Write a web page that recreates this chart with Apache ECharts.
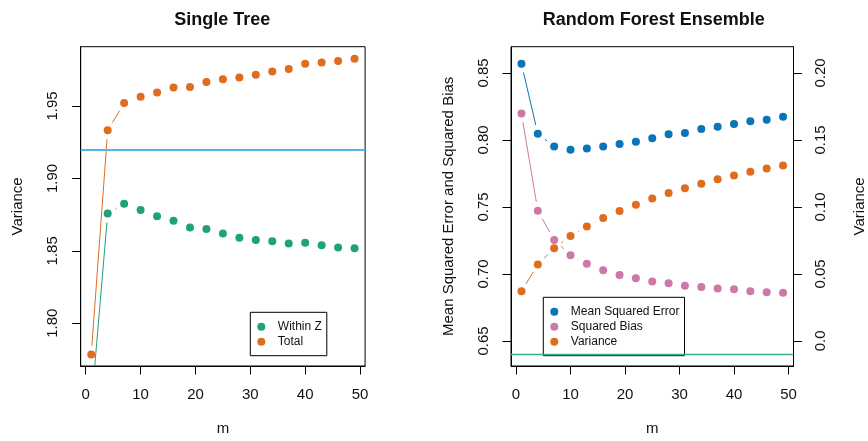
<!DOCTYPE html>
<html><head><meta charset="utf-8">
<script src="https://cdn.jsdelivr.net/npm/echarts@6/dist/echarts.min.js"></script>
<style>html,body{margin:0;padding:0;background:#fff}#c{width:868px;height:441px}</style>
</head><body><div id="c"></div>
<script>
// ---- data ----
const mValues = [1, 4, 7, 10, 13, 16, 19, 22, 25, 28, 31, 34, 37, 40, 43, 46, 49];
const treeWithinZ = [1.742, 1.8757, 1.8825, 1.8782, 1.8739, 1.8707, 1.8661, 1.865, 1.862, 1.8591, 1.8575, 1.8566, 1.855, 1.8555, 1.8538, 1.8523, 1.8518];
const treeTotal = [1.7784, 1.9332, 1.952, 1.9564, 1.9593, 1.9628, 1.963, 1.9666, 1.9684, 1.9696, 1.9716, 1.9737, 1.9755, 1.9791, 1.98, 1.981, 1.9825];
const treeRefLine = 1.9178;
const rfMSE = [0.8569, 0.8047, 0.7951, 0.7927, 0.7937, 0.7951, 0.7969, 0.7986, 0.8013, 0.8043, 0.8052, 0.8082, 0.8099, 0.8119, 0.8139, 0.8151, 0.8173];
const rfBias = [0.8198, 0.7472, 0.7254, 0.714, 0.7077, 0.7027, 0.6993, 0.6968, 0.6944, 0.6931, 0.6911, 0.6902, 0.6892, 0.6885, 0.687, 0.6863, 0.686];
const rfVariance = [0.037, 0.0571, 0.0692, 0.0783, 0.0854, 0.0918, 0.097, 0.1016, 0.1063, 0.1105, 0.1139, 0.1174, 0.1206, 0.1235, 0.1263, 0.1287, 0.1309];
const rfRefLine = 0.64;
const xTicks = [0, 10, 20, 30, 40, 50];
const treeYTicks = [1.80, 1.85, 1.90, 1.95];
const rfYTicks = [0.65, 0.70, 0.75, 0.80, 0.85];
const rfVarTicks = [0, 0.05, 0.10, 0.15, 0.20];
const legendTree = ['Within Z', 'Total'];
const legendRF = ['Mean Squared Error', 'Squared Bias', 'Variance'];

// ---- styling ----
const FONT = 'Liberation Sans, Arial, Helvetica, sans-serif';
const C = { green: '#1FA27A', orange: '#E06C1F', blue: '#0A74B8', pink: '#CC79A7', sky: '#56B4E9', lineGreen: '#35B486' };
const X_MIN = -0.92, X_MAX = 50.92;
const TREE_Y = [1.7705, 1.9909];
const RF_Y = [0.6313, 0.8696];
const VAR_OFFSET = 0.65;

const zip = (xs, ys) => xs.map((x, i) => [x, ys[i]]);
const segs = (xs, ys) => xs.slice(0, -1).map((x, i) => [x, ys[i], xs[i + 1], ys[i + 1]]);
function gapRender(color) {
  return function (params, api) {
    const p1 = api.coord([api.value(0), api.value(1)]);
    const p2 = api.coord([api.value(2), api.value(3)]);
    const dx = p2[0] - p1[0], dy = p2[1] - p1[1];
    const L = Math.hypot(dx, dy), g = 9;
    if (L <= 2 * g) return { type: 'group', children: [] };
    const ux = dx / L, uy = dy / L;
    return { type: 'line', shape: { x1: p1[0] + ux * g, y1: p1[1] + uy * g, x2: p2[0] - ux * g, y2: p2[1] - uy * g },
      style: { stroke: color, lineWidth: 1 } };
  };
}
function lineSeries(xi, yi, xs, ys, color) {
  return { type: 'custom', xAxisIndex: xi, yAxisIndex: yi, clip: true, silent: true,
    encode: { x: [0, 2], y: [1, 3] }, data: segs(xs, ys), renderItem: gapRender(color), z: 2 };
}
function pointSeries(name, xi, yi, xs, ys, color) {
  return { type: 'scatter', name, xAxisIndex: xi, yAxisIndex: yi, clip: true, silent: true,
    symbol: 'circle', symbolSize: 8, itemStyle: { color, opacity: 1 }, data: zip(xs, ys), z: 3 };
}
const txt = { color: '#111', fontFamily: FONT, fontSize: 15 };
function xAxis(gi) {
  return { type: 'value', gridIndex: gi, min: X_MIN, max: X_MAX,
    axisLine: { show: true, onZero: false, lineStyle: { color: '#000', width: 1 } },
    axisTick: { show: true, customValues: xTicks, length: 8.5, lineStyle: { color: '#000', width: 1 } },
    axisLabel: { customValues: xTicks, margin: 21.5, ...txt },
    splitLine: { show: false },
    name: 'm', nameLocation: 'middle', nameGap: 55, nameTextStyle: { ...txt } };
}
function yAxis(gi, range, ticks, fmt, pos, name, nameGap) {
  return { type: 'value', gridIndex: gi, min: range[0], max: range[1], position: pos,
    axisLine: { show: true, onZero: false, lineStyle: { color: '#000', width: 1 } },
    axisTick: { show: true, customValues: ticks, length: 8.5, lineStyle: { color: '#000', width: 1 } },
    axisLabel: { customValues: ticks, rotate: 90, margin: 20, formatter: fmt, ...txt },
    splitLine: { show: false },
    name, nameLocation: 'middle', nameGap, nameRotate: 90, nameTextStyle: { ...txt } };
}
function legend(names, left, top) {
  return { data: names, orient: 'vertical', left, top, padding: [8.4, 5, 8, 7], itemGap: 3,
    itemWidth: 23, itemHeight: 8, icon: 'circle', selectedMode: false,
    borderColor: '#000', borderWidth: 1, borderRadius: 0, backgroundColor: '#fff',
    textStyle: { color: '#111', fontFamily: FONT, fontSize: 12 } };
}

const tree = pointSeries('Total', 0, 0, mValues, treeTotal, C.orange);
tree.markLine = { symbol: 'none', silent: true, label: { show: false }, animation: false,
  lineStyle: { color: C.sky, width: 2, type: 'solid' }, data: [{ yAxis: treeRefLine }] };
const mse = pointSeries('Mean Squared Error', 1, 1, mValues, rfMSE, C.blue);
mse.markLine = { symbol: 'none', silent: true, label: { show: false }, animation: false,
  lineStyle: { color: C.lineGreen, width: 1.3, type: 'solid' }, data: [{ yAxis: rfRefLine }] };

const chart = echarts.init(document.getElementById('c'), null, { renderer: 'canvas' });
chart.setOption({
  animation: false,
  backgroundColor: '#fff',
  textStyle: { fontFamily: FONT },
  graphic: [
    { type: 'text', x: 222.2, y: 20.5, style: { text: 'Single Tree', font: 'bold 18px ' + FONT, fill: '#111', align: 'center', verticalAlign: 'middle' } },
    { type: 'text', x: 653.7, y: 20.5, style: { text: 'Random Forest Ensemble', font: 'bold 18px ' + FONT, fill: '#111', align: 'center', verticalAlign: 'middle' } }
  ],
  grid: [
    { left: 80.7, top: 46.7, width: 284.4, height: 323.3, show: true, borderColor: '#000', borderWidth: 1, backgroundColor: 'transparent' },
    { left: 511, top: 46.7, width: 284.4, height: 323.3, show: true, borderColor: '#000', borderWidth: 1, backgroundColor: 'transparent' }
  ],
  xAxis: [xAxis(0), xAxis(1)],
  yAxis: [
    yAxis(0, TREE_Y, treeYTicks, v => v.toFixed(2), 'left', 'Variance', 55),
    yAxis(1, RF_Y, rfYTicks, v => v.toFixed(2), 'left', 'Mean Squared Error and Squared Bias', 55),
    yAxis(1, [RF_Y[0] - VAR_OFFSET, RF_Y[1] - VAR_OFFSET], rfVarTicks, v => (v === 0 ? '0.0' : v.toFixed(2)), 'right', 'Variance', 58.5)
  ],
  legend: [legend(legendTree, 250.3, 312.3), legend(legendRF, 543.3, 297.3)],
  series: [
    lineSeries(0, 0, mValues, treeWithinZ, C.green),
    lineSeries(0, 0, mValues, treeTotal, C.orange),
    pointSeries('Within Z', 0, 0, mValues, treeWithinZ, C.green),
    tree,
    lineSeries(1, 1, mValues, rfMSE, C.blue),
    lineSeries(1, 1, mValues, rfBias, C.pink),
    lineSeries(1, 2, mValues, rfVariance, C.orange),
    mse,
    pointSeries('Squared Bias', 1, 1, mValues, rfBias, C.pink),
    pointSeries('Variance', 1, 2, mValues, rfVariance, C.orange)
  ]
});
</script></body></html>
